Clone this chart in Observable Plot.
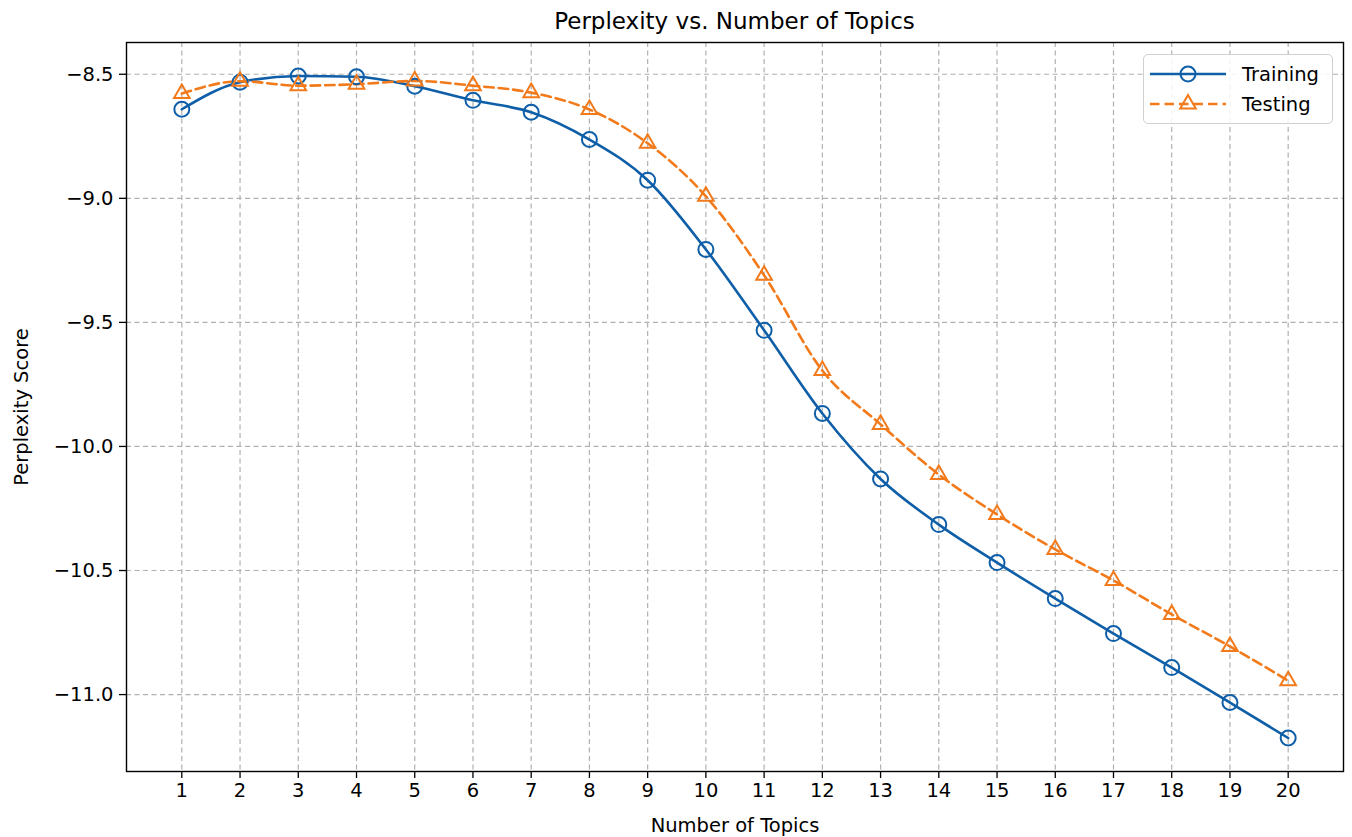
<!DOCTYPE html>
<html>
<head>
<meta charset="utf-8">
<script src="https://cdn.jsdelivr.net/npm/d3@7"></script>
<script src="https://cdn.jsdelivr.net/npm/@observablehq/plot@0.6"></script>
<style>
  html, body { margin: 0; padding: 0; background: #fff; }
  #wrap { position: relative; width: 1352px; height: 837px; font-family: "DejaVu Sans", sans-serif; }
  #title { box-sizing: border-box; width: 1352px; height: 38px; padding-left: 126px; padding-right: 9px;
           text-align: center; font-size: 23px; line-height: 42px; color: #000; }
  #legend { position: absolute; left: 1143px; top: 54px; width: 190px; height: 70px; box-sizing: border-box;
            border: 1.3px solid #d0d0d0; border-radius: 5px; background: rgba(255,255,255,0.85); }
  .lg-row { position: absolute; left: 0; height: 30px; display: flex; align-items: center; }
  .lg-row span { font-size: 19.5px; margin-left: 14px; color: #000; }
</style>
</head>
<body>
<div id="wrap">
  <div id="title">Perplexity vs. Number of Topics</div>
  <div id="chart"></div>
  <div id="legend"></div>
</div>
<script>
const topics = [1,2,3,4,5,6,7,8,9,10,11,12,13,14,15,16,17,18,19,20];
const training = [-8.641,-8.532,-8.507,-8.510,-8.548,-8.605,-8.653,-8.763,-8.927,-9.206,-9.532,-9.867,-10.131,-10.315,-10.468,-10.613,-10.754,-10.891,-11.032,-11.175];
const testing  = [-8.578,-8.528,-8.546,-8.540,-8.527,-8.546,-8.574,-8.642,-8.778,-8.992,-9.310,-9.694,-9.911,-10.113,-10.274,-10.415,-10.540,-10.677,-10.806,-10.944];
const yTicks = [-8.5,-9.0,-9.5,-10.0,-10.5,-11.0];
const seriesNames = ["Training","Testing"];
const colors = {Training: "#0e5ea8", Testing: "#f27a1a"};

const rows = topics.flatMap((t, i) => [
  {topic: t, value: training[i], series: "Training"},
  {topic: t, value: testing[i], series: "Testing"}
]);
const trainRows = rows.filter(d => d.series === "Training");
const testRows = rows.filter(d => d.series === "Testing");

const fmt = d => d3.format(".1f")(d);
const triR = 5.8;

const chart = Plot.plot({
  width: 1352,
  height: 799,
  marginTop: 4,
  marginBottom: 66,
  marginLeft: 126,
  marginRight: 9,
  style: {fontFamily: "DejaVu Sans, sans-serif", fontSize: "19.5px", color: "#000", background: "#fff"},
  x: {domain: [0.05, 20.95]},
  y: {domain: [-11.31, -8.372]},
  marks: [
    Plot.gridX(topics, {stroke: "#b0b0b0", strokeOpacity: 1, strokeWidth: 1.2, strokeDasharray: "5,3.5"}),
    Plot.gridY(yTicks, {stroke: "#b0b0b0", strokeOpacity: 1, strokeWidth: 1.2, strokeDasharray: "5,3.5"}),
    Plot.line(trainRows, {x: "topic", y: "value", stroke: colors.Training, strokeWidth: 2.6, curve: "monotone-x"}),
    Plot.line(testRows, {x: "topic", y: "value", stroke: colors.Testing, strokeWidth: 2.6, strokeDasharray: "9.5,5", curve: "monotone-x"}),
    Plot.dot(trainRows, {x: "topic", y: "value", r: 7.5, stroke: colors.Training, strokeWidth: 2, fill: "none", symbol: "circle"}),
    Plot.dot(testRows, {x: "topic", y: "value", r: triR, stroke: colors.Testing, strokeWidth: 2, fill: "none", symbol: "triangle"}),
    Plot.frame({stroke: "#000", strokeWidth: 1.4}),
    Plot.axisX({ticks: topics, tickFormat: d => String(d), tickSize: 7, tickPadding: 5, strokeWidth: 1.3,
      label: "Number of Topics", labelAnchor: "center", labelArrow: "none", labelOffset: 60}),
    Plot.axisY({ticks: yTicks, tickFormat: fmt, tickSize: 7, tickPadding: 6, strokeWidth: 1.3,
      label: "Perplexity Score", labelAnchor: "center", labelArrow: "none", labelOffset: 112})
  ]
});
document.getElementById("chart").appendChild(chart);

// Legend
const legend = d3.select("#legend");
seriesNames.forEach((name, i) => {
  const row = legend.append("div").attr("class", "lg-row").style("top", (4 + i * 30) + "px").style("left", "4px");
  const svg = row.append("svg").attr("width", 80).attr("height", 30);
  svg.append("line").attr("x1", 2).attr("x2", 78).attr("y1", 15).attr("y2", 15)
    .attr("stroke", colors[name]).attr("stroke-width", 2.6)
    .attr("stroke-dasharray", name === "Testing" ? "9.5,5" : null);
  if (name === "Training") {
    svg.append("circle").attr("cx", 40).attr("cy", 15).attr("r", 7.5)
      .attr("fill", "none").attr("stroke", colors[name]).attr("stroke-width", 2);
  } else {
    svg.append("path").attr("transform", "translate(40,15)")
      .attr("d", d3.symbol(d3.symbolTriangle, Math.PI * triR * triR)())
      .attr("fill", "none").attr("stroke", colors[name]).attr("stroke-width", 2);
  }
  row.append("span").text(name);
});
</script>
</body>
</html>
